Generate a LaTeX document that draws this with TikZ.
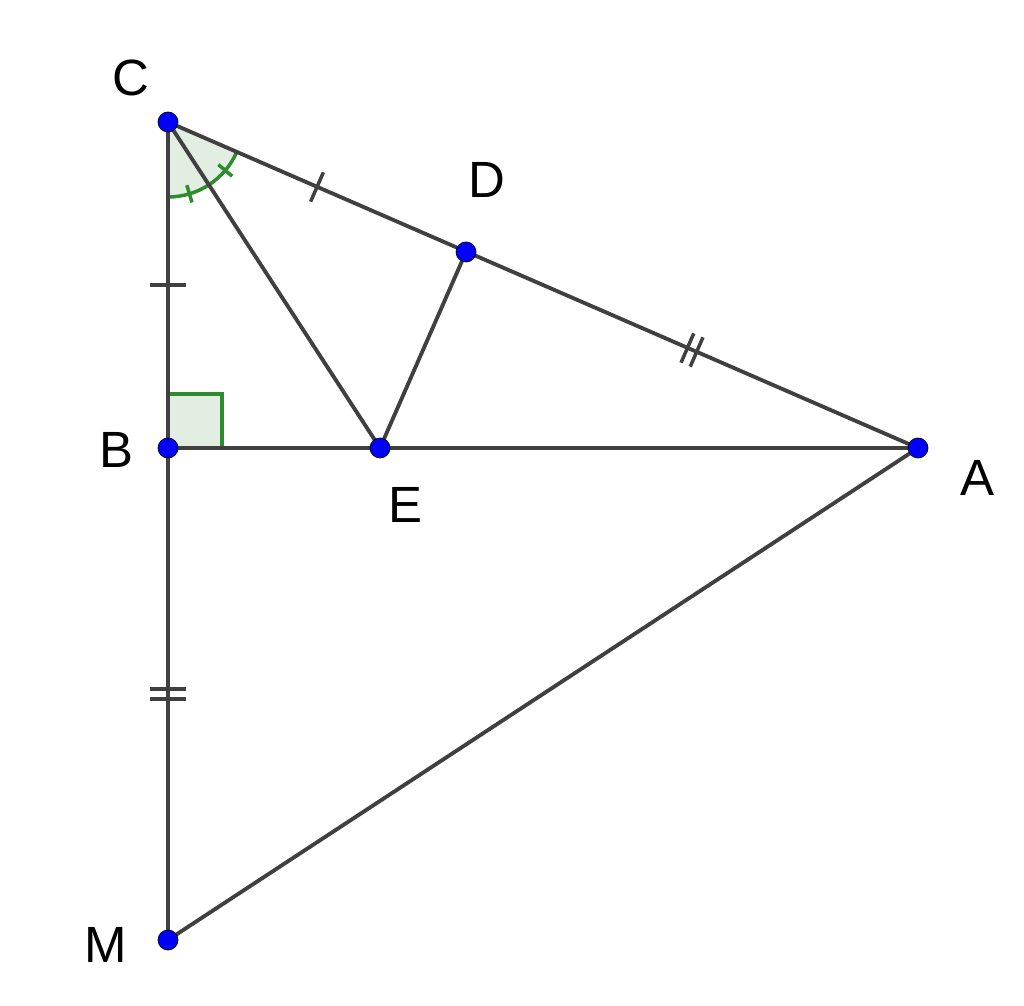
\documentclass[tikz,border=0pt]{standalone}
\usepackage{fontspec}
\setmainfont{Liberation Sans}
\usetikzlibrary{calc}
\definecolor{seg}{HTML}{404040}
\definecolor{ang}{HTML}{2E8B2E}
\definecolor{angfill}{HTML}{E3EEE3}
\tikzset{
  segline/.style={draw=seg, line width=2.2pt, line cap=round},
  tickmark/.style={draw=seg, line width=2pt},
  angline/.style={draw=ang, line width=2pt},
  dot/.style={circle, fill=blue, draw=black, line width=0.4pt, inner sep=0pt, minimum size=0.4cm},
  lbl/.style={font=\fontsize{29}{32}\selectfont, text=black}
}
\begin{document}
\begin{tikzpicture}[x=0.02cm,y=-0.02cm]
\useasboundingbox (0,0) rectangle (1024,1006);
\coordinate (C) at (168,122);
\coordinate (D) at (466,252);
\coordinate (B) at (168,448);
\coordinate (E) at (380,448);
\coordinate (A) at (918,448);
\coordinate (M) at (168,940);
% angle at C
\path[fill=angfill] (C) -- ++(0,75) arc[start angle=-90, end angle=-23.5, radius=1.5cm] -- cycle;
\draw[angline] ($(C)+(0,75)$) arc[start angle=-90, end angle=-23.5, radius=1.5cm];
\draw[angline] ($(C)+(-73.4:1.32cm)$) -- ($(C)+(-73.4:1.68cm)$);
\draw[angline] ($(C)+(-40.2:1.32cm)$) -- ($(C)+(-40.2:1.68cm)$);
% right angle at B
\path[fill=angfill] (B) rectangle ++(54,-54);
\draw[angline] (B) -- ++(0,-54) -- ++(54,0) -- ++(0,54);
% segments
\draw[segline] (C) -- (M);
\draw[segline] (C) -- (A);
\draw[segline] (B) -- (A);
\draw[segline] (C) -- (E);
\draw[segline] (D) -- (E);
\draw[segline] (M) -- (A);
% ticks
\draw[tickmark] ($(C)!0.5!(D)!0.32cm!90:(D)$) -- ($(C)!0.5!(D)!0.32cm!-90:(D)$);
\draw[tickmark] ($(C)!0.5!(B)!0.36cm!90:(B)$) -- ($(C)!0.5!(B)!0.36cm!-90:(B)$);
\foreach \s in {-5,5}{
  \coordinate (dm) at ($(D)!0.5!(A)$);
  \coordinate (dm2) at ($(dm)!\s*0.02cm!(A)$);
  \draw[tickmark] ($(dm2)!0.32cm!90:(A)$) -- ($(dm2)!0.32cm!-90:(A)$);
  \coordinate (bm) at ($(B)!0.5!(M)$);
  \coordinate (bm2) at ($(bm)!\s*0.02cm!(M)$);
  \draw[tickmark] ($(bm2)!0.36cm!90:(M)$) -- ($(bm2)!0.36cm!-90:(M)$);
}
% points
\node[dot] (pC) at (C) {};
\node[dot] (pD) at (D) {};
\node[dot] (pB) at (B) {};
\node[dot] (pE) at (E) {};
\node[dot] (pA) at (A) {};
\node[dot] (pM) at (M) {};
% labels
\node[lbl] (lC) at (131,78) {C};
\node[lbl] (lD) at (487,180) {D};
\node[lbl] (lB) at (116,450) {B};
\node[lbl] (lE) at (405,505) {E};
\node[lbl] (lA) at (977,478) {A};
\node[lbl] (lM) at (106,945) {M};
\end{tikzpicture}
\end{document}
